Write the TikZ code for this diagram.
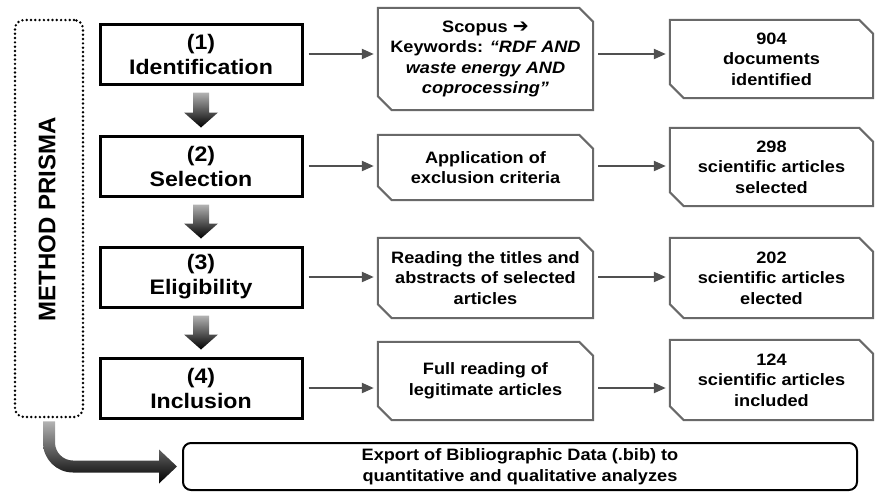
\documentclass[tikz,border=0pt]{standalone}
\usepackage{fontspec}
\setmainfont[FakeStretch=1.1]{Liberation Sans}
\newfontfamily\prismafont{Liberation Sans}
\newfontfamily\symfont{DejaVu Sans}
\usetikzlibrary{arrows.meta,calc}
\definecolor{edgegray}{RGB}{105,105,105}
\definecolor{arrgray}{RGB}{80,80,80}
\tikzset{
  stepbox/.style={draw=black, line width=3pt, minimum width=202pt, minimum height=60pt,
              inner sep=0pt, align=center, font=\fontsize{21}{25}\selectfont\bfseries},
  cutbox/.style={inner sep=0pt, align=center, font=\fontsize{16.5}{20.5}\selectfont\bfseries},
  cutline/.style={draw=edgegray, line width=2pt, line join=miter},
  midbox/.style={cutbox, minimum width=215pt},
  resbox/.style={cutbox, minimum width=203pt},
  flow/.style={-{Triangle[length=12pt,width=10pt]}, arrgray, line width=2.2pt,
              shorten <=5pt, shorten >=4pt},
  fatshade/.style={top color=black!30, middle color=black!88, bottom color=black},
  dotbox/.style={draw, line width=2.7pt, dash pattern=on 0pt off 4.3pt, line cap=round,
              rounded corners=9pt, minimum width=68pt, minimum height=397pt},
  endbox/.style={draw, line width=2pt, rounded corners=8pt, minimum width=674pt,
              minimum height=47pt, inner sep=0pt, align=center,
              font=\fontsize{16.5}{20.5}\selectfont\bfseries},
}
% frame with cut corners (top right, bottom left)
\newcommand{\cutframe}[1]{%
  \draw[cutline] (#1.north west) -- ($(#1.north east)+(-14pt,0pt)$) -- ($(#1.north east)+(0pt,-14pt)$)
    -- (#1.south east) -- ($(#1.south west)+(14pt,0pt)$) -- ($(#1.south west)+(0pt,14pt)$) -- cycle;}

\begin{document}
\begin{tikzpicture}[x=1pt, y=1pt]
  \useasboundingbox (0,0) rectangle (876,-491);
  % method frame
  \node[dotbox] (prisma) at (49,-218.5) {};
  \node[rotate=90, font=\prismafont\fontsize{24}{28}\selectfont\bfseries] (prismalbl) at (47,-219) {METHOD PRISMA};
  % steps
  \node[stepbox] (s1) at (201,-54) {(1)\\Identification};
  \node[stepbox] (s2) at (201,-166) {(2)\\Selection};
  \node[stepbox] (s3) at (201,-277) {(3)\\Eligibility};
  \node[stepbox] (s4) at (201,-388) {(4)\\Inclusion};
  % actions
  \node[midbox, minimum height=102pt] (m1) at (485.5,-59)
       {Scopus {\symfont\bfseries\fontsize{19}{20}\selectfont ➔}\\Keywords: \textit{“RDF AND}\\\textit{waste energy AND}\\\textit{coprocessing”}};
  \node[midbox, minimum height=65pt] (m2) at (485.5,-167.5) {Application of\\exclusion criteria};
  \node[midbox, minimum height=80pt] (m3) at (485.5,-278) {Reading the titles and\\abstracts of selected\\articles};
  \node[midbox, minimum height=78pt] (m4) at (485.5,-381) {Full reading of\\legitimate articles};
  % results
  \node[resbox, minimum height=78pt] (r1) at (771.5,-59) {904\\documents\\identified};
  \node[resbox, minimum height=78pt] (r2) at (771.5,-167) {298\\scientific articles\\selected};
  \node[resbox, minimum height=80pt] (r3) at (771.5,-278) {202\\scientific articles\\elected};
  \node[resbox, minimum height=80pt] (r4) at (771.5,-380) {124\\scientific articles\\included};
  \node[endbox] (export) at (520,-466.5) {Export of Bibliographic Data (.bib) to\\quantitative and qualitative analyzes};

  \foreach \i in {1,...,4} {
    \cutframe{m\i}
    \cutframe{r\i}
    \draw[flow] (s\i.east) -- (s\i.east -| m\i.west);
    \draw[flow] (s\i.east -| m\i.east) -- (s\i.east -| r\i.west);
  }
  % fat arrows between steps
  \foreach \a/\b in {s1/s2,s2/s3,s3/s4}
    \shade[fatshade] ($(\a.south)+(-8pt,-7pt)$) -- ($(\a.south)+(8pt,-7pt)$)
      -- ($(\b.north)+(8pt,22pt)$) -- ($(\b.north)+(17pt,22pt)$) -- ($(\b.north)+(0pt,7pt)$)
      -- ($(\b.north)+(-17pt,22pt)$) -- ($(\b.north)+(-8pt,22pt)$) -- cycle;
  \shade[fatshade] let \p1=(prisma.south), \p2=(export.west) in
    (\x1-6pt,\y1-3pt) -- (\x1-6pt,\y2+24pt) arc[start angle=180, end angle=270, radius=30pt]
    -- (\x2-23pt,\y2-6pt) -- (\x2-23pt,\y2-17pt) -- (\x2-5pt,\y2) -- (\x2-23pt,\y2+17pt)
    -- (\x2-23pt,\y2+6pt) -- (\x1+24pt,\y2+6pt) arc[start angle=270, end angle=180, radius=18pt]
    -- (\x1+6pt,\y1-3pt) -- cycle;
\end{tikzpicture}
\end{document}
